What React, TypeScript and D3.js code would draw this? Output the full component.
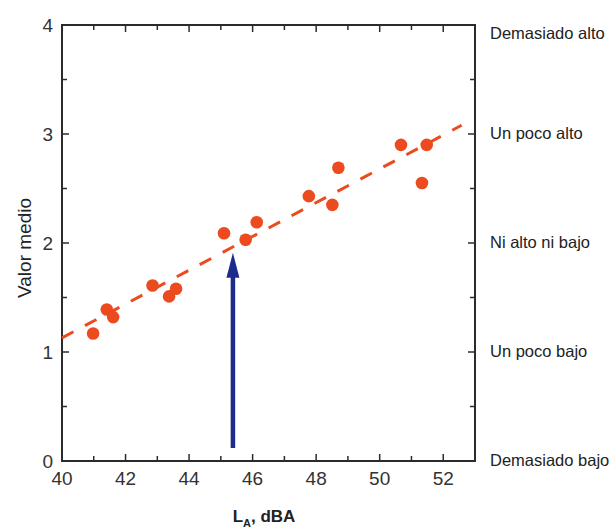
import React from 'react';
import * as d3 from 'd3';

// ---- data ----
const levelDb = [40.98, 41.41, 41.61, 42.85, 43.37, 43.59, 45.1, 45.78, 46.13, 47.77, 48.51, 48.7, 50.67, 51.33, 51.48];
const meanValue = [1.17, 1.39, 1.32, 1.61, 1.51, 1.58, 2.09, 2.03, 2.19, 2.43, 2.35, 2.69, 2.9, 2.55, 2.9];
const fitLineX = [40, 52.58];
const fitLineY = [1.13, 3.08];
const arrowAt = 45.38;
const arrowFrom = 0.12;
const arrowTo = 1.91;
const xTickLabels = [40, 42, 44, 46, 48, 50, 52];
const yTickLabels = [0, 1, 2, 3, 4];
const ratingLabels = ['Demasiado bajo', 'Un poco bajo', 'Ni alto ni bajo', 'Un poco alto', 'Demasiado alto'];

const W = 612;
const H = 529;
const L = 62, R = 475, T = 25, B = 461;
const FONT = '"Liberation Sans", Arial, Helvetica, sans-serif';

export default function App() {
  const x = d3.scaleLinear().domain([40, 53]).range([L, R]);
  const y = d3.scaleLinear().domain([0, 4]).range([B, T]);

  const xMinor = d3.range(40, 53.01, 1);
  const yMinor = d3.range(0, 4.01, 0.5);

  const fitPath = d3.line<number>()
    .x((_, i) => x(fitLineX[i]))
    .y((d) => y(d))(fitLineY) || '';

  const ax = x(arrowAt);
  const tipY = y(arrowTo);
  const headLen = 25;
  const headHalf = 6.5;
  const arrowHead = d3.line()([
    [ax, tipY],
    [ax - headHalf, tipY + headLen],
    [ax + headHalf, tipY + headLen],
  ]) + 'Z';

  const axisColor = '#2b2b2b';
  const red = '#ec4a1f';
  const blue = '#1c2c8c';

  return (
    <svg width={W} height={H} style={{ position: 'absolute', left: 0, top: 0, background: '#fff' }} fontFamily={FONT}>
      {/* ticks */}
      <g stroke={axisColor} strokeWidth={1.5}>
        {xMinor.map((v) => {
          const len = v % 2 === 0 ? 7 : 5;
          return (
            <g key={'xt' + v}>
              <line x1={x(v)} x2={x(v)} y1={B} y2={B - len} />
              <line x1={x(v)} x2={x(v)} y1={T} y2={T + len} />
            </g>
          );
        })}
        {yMinor.map((v) => {
          const len = Number.isInteger(v) ? 7 : 5;
          return (
            <g key={'yt' + v}>
              <line x1={L} x2={L + len} y1={y(v)} y2={y(v)} />
              <line x1={R} x2={R - len} y1={y(v)} y2={y(v)} />
            </g>
          );
        })}
      </g>
      {/* frame */}
      <rect x={L} y={T} width={R - L} height={B - T} fill="none" stroke={axisColor} strokeWidth={2} />

      {/* tick labels */}
      <g fill="#333" fontSize={19}>
        {xTickLabels.map((v) => (
          <text key={'xl' + v} x={x(v)} y={B + 24} textAnchor="middle">{v}</text>
        ))}
        {yTickLabels.map((v) => (
          <text key={'yl' + v} x={L - 9} y={y(v) + 7} textAnchor="end">{v}</text>
        ))}
      </g>

      {/* right-hand rating labels */}
      <g fill="#222" fontSize={16.5}>
        {ratingLabels.map((t, i) => (
          <text key={t} x={490} y={y(i) + (i === 4 ? 14 : 5)}>{t}</text>
        ))}
      </g>

      {/* axis titles */}
      <text x={264} y={522} textAnchor="middle" fontSize={17} fontWeight="bold" fill="#222">
        L<tspan fontSize={11} dy={5}>A</tspan><tspan dy={-5}>, dBA</tspan>
      </text>
      <text transform={`translate(31, ${(T + B) / 2 + 5}) rotate(-90)`} textAnchor="middle" fontSize={19} fill="#222">
        Valor medio
      </text>

      {/* fit line */}
      <path d={fitPath} fill="none" stroke={red} strokeWidth={3} strokeDasharray="13 13" />

      {/* points */}
      <g fill={red}>
        {levelDb.map((v, i) => (
          <circle key={'p' + i} cx={x(v)} cy={y(meanValue[i])} r={6.3} />
        ))}
      </g>

      {/* arrow */}
      <line x1={ax} x2={ax} y1={y(arrowFrom)} y2={tipY + headLen - 2} stroke={blue} strokeWidth={4.5} />
      <path d={arrowHead} fill={blue} />
    </svg>
  );
}
